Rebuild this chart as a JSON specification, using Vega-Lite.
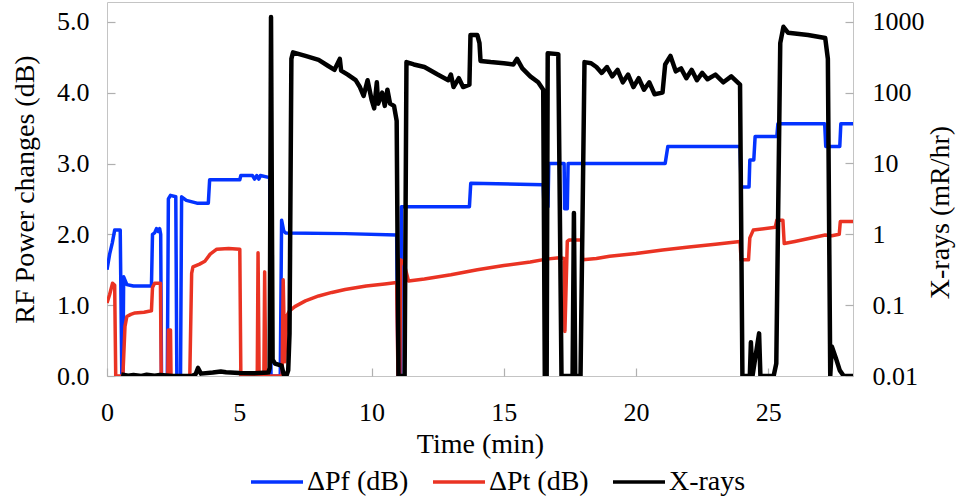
{
"$schema":"https://vega.github.io/schema/vega-lite/v6.json",
"autosize":"none",
"width":746,"height":374,
"padding":{"left":107,"top":2,"right":103,"bottom":125},
"config":{"view":{"stroke":"#c4c4c4","strokeWidth":1},"font":"Liberation Serif"},
"datasets":{
"pf":[{"t":0,"v":1.5},{"t":0.1,"v":1.72},{"t":0.2,"v":1.88},{"t":0.29,"v":2.06},{"t":0.5,"v":2.06},{"t":0.56,"v":0},{"t":0.6,"v":0},{"t":0.63,"v":1.4},{"t":0.75,"v":1.29},{"t":1.0,"v":1.27},{"t":1.68,"v":1.27},{"t":1.72,"v":2.0},{"t":1.8,"v":2.02},{"t":1.87,"v":2.08},{"t":1.93,"v":2.04},{"t":1.99,"v":2.08},{"t":2.03,"v":2.0},{"t":2.06,"v":0},{"t":2.28,"v":0},{"t":2.32,"v":2.5},{"t":2.4,"v":2.55},{"t":2.6,"v":2.53},{"t":2.64,"v":0},{"t":2.78,"v":0},{"t":2.82,"v":2.53},{"t":3.0,"v":2.48},{"t":3.4,"v":2.44},{"t":3.83,"v":2.44},{"t":3.88,"v":2.77},{"t":5.02,"v":2.77},{"t":5.06,"v":2.83},{"t":5.5,"v":2.83},{"t":5.58,"v":2.78},{"t":5.66,"v":2.83},{"t":5.74,"v":2.78},{"t":5.8,"v":2.83},{"t":6.15,"v":2.8},{"t":6.2,"v":0},{"t":6.55,"v":0},{"t":6.6,"v":2.2},{"t":6.68,"v":2.05},{"t":6.75,"v":2.02},{"t":9,"v":2.01},{"t":10.95,"v":1.99},{"t":11.0,"v":0},{"t":11.1,"v":0},{"t":11.13,"v":2.39},{"t":13.7,"v":2.39},{"t":13.75,"v":2.72},{"t":16.49,"v":2.7},{"t":16.52,"v":2.39},{"t":16.67,"v":2.39},{"t":16.7,"v":3.0},{"t":17.28,"v":3.0},{"t":17.3,"v":2.36},{"t":17.4,"v":2.36},{"t":17.43,"v":3.0},{"t":21.1,"v":3.0},{"t":21.2,"v":3.24},{"t":23.93,"v":3.24},{"t":23.97,"v":2.67},{"t":24.27,"v":2.67},{"t":24.3,"v":3.05},{"t":24.45,"v":3.05},{"t":24.5,"v":3.38},{"t":25.32,"v":3.38},{"t":25.36,"v":3.56},{"t":27.13,"v":3.56},{"t":27.17,"v":3.24},{"t":27.7,"v":3.24},{"t":27.74,"v":3.56},{"t":28.2,"v":3.56}],
"pt":[{"t":0,"v":1.03},{"t":0.1,"v":1.15},{"t":0.21,"v":1.31},{"t":0.29,"v":1.28},{"t":0.33,"v":0},{"t":0.6,"v":0},{"t":0.68,"v":0.7},{"t":0.75,"v":0.84},{"t":0.9,"v":0.87},{"t":1.06,"v":0.89},{"t":1.4,"v":0.9},{"t":1.68,"v":0.92},{"t":1.72,"v":1.25},{"t":1.8,"v":1.31},{"t":2.02,"v":1.31},{"t":2.05,"v":0},{"t":2.3,"v":0},{"t":2.32,"v":0.65},{"t":2.4,"v":0.65},{"t":2.42,"v":0},{"t":3.13,"v":0},{"t":3.2,"v":1.45},{"t":3.25,"v":1.54},{"t":3.5,"v":1.58},{"t":3.7,"v":1.62},{"t":3.9,"v":1.72},{"t":4.15,"v":1.79},{"t":4.6,"v":1.8},{"t":5.02,"v":1.79},{"t":5.06,"v":0},{"t":5.68,"v":0},{"t":5.71,"v":1.74},{"t":5.75,"v":0},{"t":5.93,"v":0},{"t":5.96,"v":1.47},{"t":6.0,"v":0},{"t":6.62,"v":0},{"t":6.66,"v":1.36},{"t":6.72,"v":0.2},{"t":6.8,"v":0.85},{"t":6.9,"v":0.92},{"t":7.1,"v":0.98},{"t":7.5,"v":1.06},{"t":8.0,"v":1.13},{"t":8.5,"v":1.18},{"t":9.0,"v":1.22},{"t":9.8,"v":1.27},{"t":10.5,"v":1.3},{"t":10.95,"v":1.32},{"t":11.0,"v":0},{"t":11.07,"v":0},{"t":11.1,"v":1.64},{"t":11.22,"v":1.6},{"t":11.4,"v":1.34},{"t":12.0,"v":1.37},{"t":13.0,"v":1.43},{"t":14.0,"v":1.5},{"t":15.0,"v":1.56},{"t":16.0,"v":1.61},{"t":16.6,"v":1.65},{"t":17.1,"v":1.67},{"t":17.28,"v":1.66},{"t":17.31,"v":0.63},{"t":17.4,"v":1.9},{"t":17.47,"v":1.92},{"t":17.94,"v":1.92},{"t":17.98,"v":1.64},{"t":18.5,"v":1.66},{"t":19.0,"v":1.69},{"t":20.0,"v":1.73},{"t":21.0,"v":1.78},{"t":22.0,"v":1.82},{"t":23.0,"v":1.86},{"t":23.93,"v":1.9},{"t":23.97,"v":1.64},{"t":24.25,"v":1.64},{"t":24.3,"v":1.95},{"t":24.43,"v":2.06},{"t":25.26,"v":2.1},{"t":25.32,"v":2.2},{"t":25.55,"v":2.2},{"t":25.6,"v":1.87},{"t":26.0,"v":1.9},{"t":27.15,"v":1.99},{"t":27.4,"v":1.98},{"t":27.68,"v":2.0},{"t":27.72,"v":2.18},{"t":28.2,"v":2.18}],
"xr":[{"t":0.54,"v":0.0105},{"t":0.8,"v":0.0101},{"t":1.0,"v":0.0103},{"t":1.3,"v":0.01},{"t":1.5,"v":0.0104},{"t":1.8,"v":0.0101},{"t":2.0,"v":0.0103},{"t":2.5,"v":0.01},{"t":3.2,"v":0.01},{"t":3.35,"v":0.0106},{"t":3.44,"v":0.013},{"t":3.55,"v":0.0108},{"t":4.0,"v":0.0112},{"t":4.3,"v":0.0116},{"t":4.5,"v":0.0113},{"t":5.0,"v":0.011},{"t":5.5,"v":0.0109},{"t":6.1,"v":0.0112},{"t":6.15,"v":0.013},{"t":6.2,"v":1170},{"t":6.26,"v":0.017},{"t":6.35,"v":0.015},{"t":6.6,"v":0.014},{"t":6.68,"v":0.0105},{"t":6.78,"v":0.01},{"t":6.85,"v":0.012},{"t":6.9,"v":0.04},{"t":6.97,"v":300},{"t":7.03,"v":370},{"t":7.5,"v":330},{"t":8.0,"v":290},{"t":8.35,"v":240},{"t":8.6,"v":210},{"t":8.8,"v":300},{"t":8.85,"v":205},{"t":9.1,"v":180},{"t":9.4,"v":150},{"t":9.56,"v":120},{"t":9.7,"v":90},{"t":9.85,"v":150},{"t":10.0,"v":80},{"t":10.1,"v":60},{"t":10.2,"v":140},{"t":10.25,"v":70},{"t":10.4,"v":100},{"t":10.5,"v":65},{"t":10.6,"v":110},{"t":10.7,"v":70},{"t":10.85,"v":65},{"t":10.95,"v":40},{"t":11.02,"v":0.01},{"t":11.25,"v":0.01},{"t":11.32,"v":270},{"t":11.6,"v":250},{"t":12.0,"v":230},{"t":12.5,"v":180},{"t":12.9,"v":150},{"t":13.0,"v":180},{"t":13.1,"v":120},{"t":13.3,"v":160},{"t":13.46,"v":120},{"t":13.7,"v":130},{"t":13.74,"v":650},{"t":14.0,"v":650},{"t":14.08,"v":500},{"t":14.12,"v":280},{"t":14.5,"v":270},{"t":15.0,"v":260},{"t":15.36,"v":250},{"t":15.5,"v":300},{"t":15.7,"v":220},{"t":16.0,"v":170},{"t":16.3,"v":140},{"t":16.49,"v":110},{"t":16.55,"v":0.01},{"t":16.62,"v":0.01},{"t":16.66,"v":360},{"t":17.06,"v":350},{"t":17.18,"v":0.01},{"t":17.6,"v":0.01},{"t":17.65,"v":2.0},{"t":17.7,"v":0.01},{"t":17.9,"v":0.01},{"t":18.05,"v":270},{"t":18.3,"v":260},{"t":18.5,"v":230},{"t":18.7,"v":190},{"t":18.9,"v":230},{"t":19.1,"v":170},{"t":19.3,"v":210},{"t":19.5,"v":140},{"t":19.7,"v":180},{"t":19.9,"v":120},{"t":20.1,"v":160},{"t":20.3,"v":110},{"t":20.5,"v":140},{"t":20.7,"v":95},{"t":21.0,"v":100},{"t":21.1,"v":250},{"t":21.3,"v":330},{"t":21.5,"v":200},{"t":21.7,"v":220},{"t":21.9,"v":160},{"t":22.1,"v":210},{"t":22.3,"v":150},{"t":22.5,"v":190},{"t":22.7,"v":155},{"t":23.0,"v":180},{"t":23.3,"v":140},{"t":23.6,"v":170},{"t":23.93,"v":130},{"t":24.02,"v":0.01},{"t":24.3,"v":0.01},{"t":24.34,"v":0.03},{"t":24.4,"v":0.01},{"t":24.65,"v":0.04},{"t":24.7,"v":0.01},{"t":25.2,"v":0.01},{"t":25.3,"v":0.015},{"t":25.45,"v":500},{"t":25.57,"v":850},{"t":25.75,"v":700},{"t":26.5,"v":650},{"t":27.15,"v":590},{"t":27.25,"v":300},{"t":27.34,"v":0.01},{"t":27.4,"v":0.026},{"t":27.55,"v":0.018},{"t":27.7,"v":0.012},{"t":27.85,"v":0.01},{"t":28.2,"v":0.01}]
},
"encoding":{
"x":{"field":"t","type":"quantitative","scale":{"domain":[0,28.2],"nice":false,"zero":false},
"axis":{"values":[0,5,10,15,20,25],"title":"Time (min)","domain":false,"grid":false,"labelFlush":false,"tickColor":"#b0b0b0","tickWidth":1.2,"tickSize":-8,"labelPadding":31,"labelFont":"Liberation Serif","labelFontSize":26,"labelColor":"#000","titleFont":"Liberation Serif","titleFontSize":28,"titleFontWeight":"normal","titleColor":"#000","titleBaseline":"alphabetic","titleY":76}}
},
"layer":[
{
"encoding":{"y":{"field":"v","type":"quantitative","scale":{"domain":[0,5.28],"nice":false},
"axis":{"values":[0,1,2,3,4,5],"format":".1f","title":"RF Power changes (dB)","domain":false,"grid":false,"tickColor":"#b0b0b0","tickWidth":1.2,"tickSize":-8,"labelPadding":26,"labelFont":"Liberation Serif","labelFontSize":26,"labelColor":"#000","titleFont":"Liberation Serif","titleFontSize":28,"titleFontWeight":"normal","titleColor":"#000","titleBaseline":"alphabetic","titleX":-74}}},
"layer":[
{"data":{"name":"pf"},"transform":[{"calculate":"'ΔPf (dB)'","as":"s"}],
"mark":{"type":"line","strokeWidth":3.5,"clip":true,"strokeJoin":"round"},
"encoding":{"color":{"field":"s","type":"nominal","scale":{"domain":["ΔPf (dB)","ΔPt (dB)","X-rays"],"range":["#0433ff","#ea3323","#000000"]},
"legend":{"title":null,"orient":"none","direction":"horizontal","legendX":142,"legendY":452,"symbolType":"stroke","symbolSize":2704,"symbolStrokeWidth":3.5,"labelFont":"Liberation Serif","labelFontSize":28,"labelColor":"#000","labelOffset":2,"columnPadding":17,"padding":0}}}},
{"data":{"name":"pt"},"transform":[{"calculate":"'ΔPt (dB)'","as":"s"}],
"mark":{"type":"line","strokeWidth":3.5,"clip":true,"strokeJoin":"round"},
"encoding":{"color":{"field":"s","type":"nominal"}}}
]
},
{"data":{"name":"xr"},"transform":[{"calculate":"'X-rays'","as":"s"}],
"mark":{"type":"line","strokeWidth":4.5,"clip":true,"strokeJoin":"round"},
"encoding":{"y":{"field":"v","type":"quantitative","scale":{"type":"log","domain":[0.01,1905],"nice":false},
"axis":{"orient":"right","values":[0.01,0.1,1,10,100,1000],"format":"~g","title":"X-rays (mR/hr)","domain":false,"grid":false,"tickColor":"#b0b0b0","tickWidth":1.2,"tickSize":-8,"labelPadding":27,"labelFont":"Liberation Serif","labelFontSize":26,"labelColor":"#000","titleFont":"Liberation Serif","titleFontSize":28,"titleFontWeight":"normal","titleColor":"#000","titleBaseline":"alphabetic","titleAngle":-90,"titleX":95,"titleY":210}},
"color":{"field":"s","type":"nominal"}}}
],
"resolve":{"scale":{"y":"independent"}}
}
